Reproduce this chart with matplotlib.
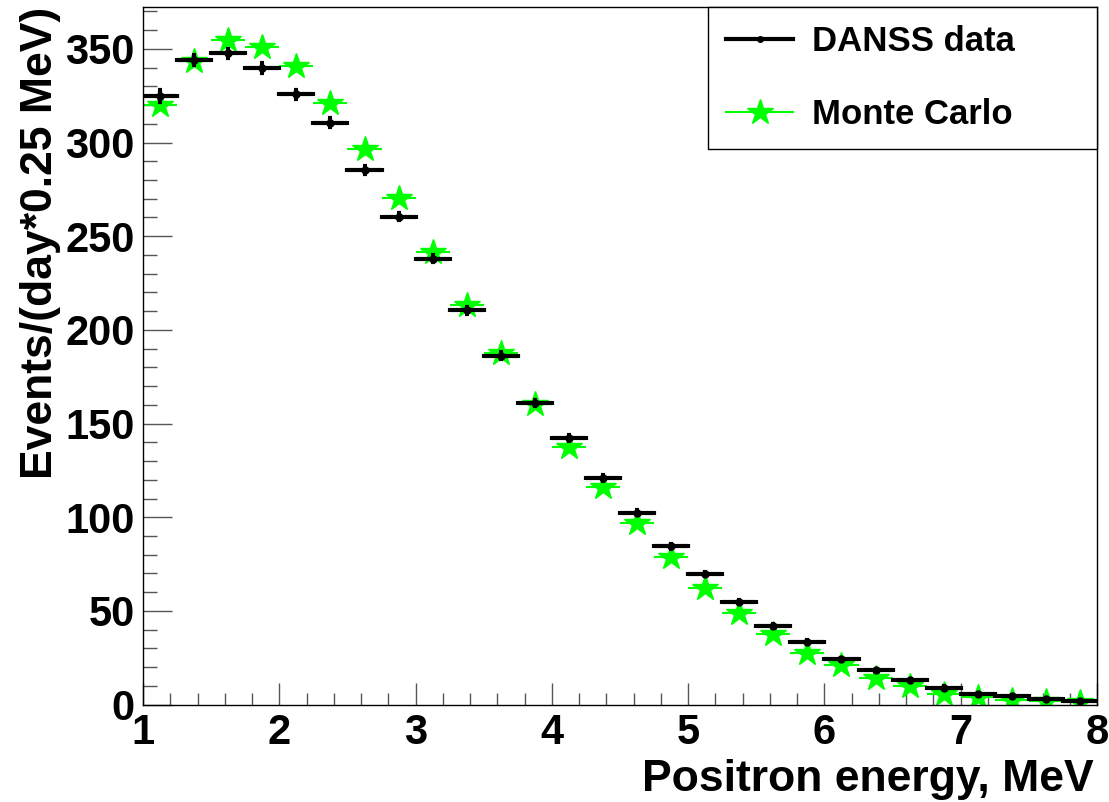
import matplotlib
matplotlib.use('agg')
import matplotlib.pyplot as plt
import numpy as np
from matplotlib.lines import Line2D
from matplotlib.ticker import MultipleLocator

# histogram binning: 1..8 MeV, 0.25 MeV bins
e_lo, e_hi, bin_w = 1.0, 8.0, 0.25

danss_y = [325.0, 344.0, 347.6, 339.6, 325.7, 310.6, 285.5, 260.5, 238.0,
           210.5, 186.2, 160.9, 142.3, 121.0, 102.5, 84.6, 69.7, 54.6, 42.1,
           33.5, 24.1, 18.4, 13.3, 9.1, 5.8, 4.5, 2.9, 2.0]
danss_err = [3.2, 2.6, 2.5, 2.6, 2.4, 2.3, 2.2, 2.1, 2.0, 1.9, 1.8, 1.7, 1.6,
             1.5, 1.4, 1.3, 1.2, 1.1, 1.0, 0.9, 0.8, 0.7, 0.6, 0.6, 0.5, 0.5,
             0.4, 0.4]
mc_y = [320.0, 343.4, 354.6, 351.2, 340.9, 321.0, 296.8, 270.4, 241.8,
        213.4, 187.6, 160.2, 137.5, 116.4, 96.7, 78.6, 62.5, 49.1, 37.9,
        27.7, 21.0, 14.1, 9.9, 5.8, 4.3, 2.6, 1.7, 1.3]
labels = ['DANSS data', 'Monte Carlo']

plt.rcParams['font.family'] = 'Liberation Sans'
plt.rcParams['font.weight'] = 'bold'
plt.rcParams['axes.labelweight'] = 'bold'

green = '#00ff00'
centers = np.arange(e_lo + bin_w / 2, e_hi, bin_w)

fig = plt.figure(figsize=(11.09, 8.02), dpi=100)
ax = fig.add_axes([0.129, 0.1214, 0.8602, 0.8699])

ax.errorbar(centers, mc_y, xerr=bin_w / 2, fmt='*', color=green, ms=19,
            elinewidth=1.5, capsize=0, zorder=2)
ax.errorbar(centers, danss_y, xerr=bin_w / 2, yerr=danss_err, fmt='o',
            color='k', ms=5, elinewidth=3, capsize=1.5, capthick=3, zorder=3)

ax.set_xlim(e_lo, e_hi)
ax.set_ylim(0, 1.05 * max(mc_y))

ax.xaxis.set_major_locator(MultipleLocator(1))
ax.xaxis.set_minor_locator(MultipleLocator(0.2))
ax.yaxis.set_major_locator(MultipleLocator(50))
ax.yaxis.set_minor_locator(MultipleLocator(10))
ax.tick_params(which='both', direction='in', top=False, right=False,
               color='#555555', width=1, labelsize=30, pad=6)
ax.tick_params(axis='x', which='major', length=16)
ax.tick_params(axis='x', which='minor', length=8.5)
ax.tick_params(axis='y', which='major', length=21)
ax.tick_params(axis='y', which='minor', length=10)
for s in ax.spines.values():
    s.set_linewidth(1)

ax.set_xlabel('Positron energy, MeV', fontsize=32, fontweight='bold',
              loc='right')
ax.xaxis.set_label_coords(0.996, -0.078)
ax.set_ylabel('Events/(day*0.25 MeV)', fontsize=32, fontweight='bold',
              loc='top')
ax.yaxis.set_label_coords(-0.086, 1.0)

handles = [Line2D([], [], color='k', lw=3, marker='o', ms=4),
           Line2D([], [], color=green, lw=1.5, marker='*', ms=19)]
leg = ax.legend(handles, labels, loc='upper left',
                bbox_to_anchor=(0.5922, 0, 0.4078, 1.0), mode='expand',
                borderaxespad=0, fontsize=25, frameon=True, fancybox=False,
                edgecolor='k', framealpha=1, handlelength=1.93,
                handletextpad=0.55, labelspacing=1.16, borderpad=0.52)
leg.get_frame().set_linewidth(1)

fig.savefig('out.png', dpi=100)
